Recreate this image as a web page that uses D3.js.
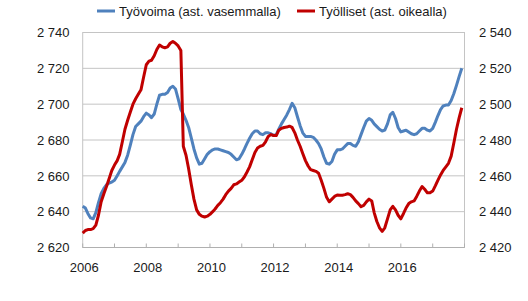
<!DOCTYPE html>
<html><head><meta charset="utf-8">
<script src="https://cdn.jsdelivr.net/npm/d3@7"></script>
<style>
html,body{margin:0;padding:0;background:#fff;}
svg{display:block;font-family:"Liberation Sans",Arial,sans-serif;}
</style></head>
<body><svg id="chart" width="528" height="301"></svg>
<script>
// Monthly series, January 2006 onward
const startYear = 2006;
const seriesNames = ["Työvoima (ast. vasemmalla)", "Työlliset (ast. oikealla)"];
// Työvoima (left axis, thousands)
const tyovoima = [
 2643,2642,2639,2636.5,2636,2639.5,2645,2650,2653,2655,2656,2656.5,
 2657.5,2660,2662.5,2665,2667.5,2671.5,2677,2683,2687.5,2689,2690.5,2693,
 2695,2694,2692.5,2694.5,2700,2705,2705.5,2705.5,2706.5,2709,2710,2708.5,
 2703,2697,2694.5,2691,2687,2681,2675,2670,2666.5,2667,2669.5,2672,
 2673.5,2674.5,2675,2675,2674.5,2674,2673.5,2673,2672,2670.5,2669,2669.5,
 2672,2675,2678,2681,2683.5,2685,2685,2683.5,2683,2684,2684,2683.5,
 2682.5,2683,2686,2689,2691.5,2694,2697,2700.5,2698,2693,2688,2684,
 2682,2682,2682,2681.5,2680,2678,2675,2670.5,2667,2666.5,2668,2672,
 2674.5,2674.5,2675,2676.5,2678,2678,2677,2676.5,2679,2683,2687,2690.5,
 2692,2691,2689,2687.5,2686,2685,2685.5,2689,2694,2695.5,2692,2687,
 2684.5,2685,2685.5,2684.5,2683.5,2683,2683.5,2685,2686.5,2686.5,2685.5,2685,
 2686.5,2690,2693.5,2697,2699,2699.5,2699.5,2702,2706,2710.5,2715.5,2720
];
// Työlliset (right axis, thousands)
const tyolliset = [
 2428,2429.5,2430,2430,2430.5,2432.5,2438,2445.5,2450,2454,2458.5,2463,
 2466,2468.5,2472,2479,2486,2491,2495.5,2500,2503,2505.5,2508,2515,
 2522,2524,2524.5,2527,2530.5,2533,2532,2531.5,2532,2534,2535,2534,
 2532.5,2530,2476.5,2471.5,2464,2455,2447,2441,2438.5,2437.5,2437,2437.5,
 2438.5,2440,2441.5,2443.5,2445,2447,2449.5,2451.5,2453,2455,2455.5,2456.5,
 2457.5,2459.5,2462,2465,2469,2473,2475.5,2476.5,2477,2479,2482,2483,
 2482.5,2482.5,2485.5,2486.5,2487,2487.2,2487.7,2487,2484,2480,2476.5,2472.5,
 2468.5,2465.5,2463.5,2463,2462.5,2461.5,2457.5,2453,2448,2445.5,2447,2448.5,
 2449.3,2449.2,2449.2,2449.5,2450,2449.5,2448,2446,2444.5,2442.8,2443.5,2445.5,
 2447,2446,2439.5,2434.5,2431,2429,2431,2436,2441,2443,2441,2438,
 2436,2439,2442,2444.5,2445.5,2446,2448.5,2451.5,2454,2452.5,2450.5,2450.5,
 2451.5,2454.5,2457.5,2460.5,2463,2465,2467,2471,2478.5,2486,2492.5,2498
];
const leftTicks = [2620,2640,2660,2680,2700,2720,2740];
const rightTicks = [2420,2440,2460,2480,2500,2520,2540];
const xLabelYears = [2006,2008,2010,2012,2014,2016];
const colors = ["#4f81bd","#c00000"];

const svg = d3.select("#chart");
const L = 82.7, R = 464.5, T = 32.5, B = 247.5;
const x = d3.scaleTime().domain([new Date(2006,0,1), new Date(2018,0,1)]).range([L,R]);
const yL = d3.scaleLinear().domain([2620,2740]).range([B,T]);
const yR = d3.scaleLinear().domain([2420,2540]).range([B,T]);
const fmt = d3.formatLocale({decimal:",",thousands:" ",grouping:[3],currency:["","€"]}).format(",d");
const dateOf = i => new Date(startYear, i, 1);

// gridlines
svg.append("g").selectAll("line").data(leftTicks.slice(1,-1)).join("line")
  .attr("x1",L).attr("x2",R).attr("y1",d=>yL(d)).attr("y2",d=>yL(d))
  .attr("stroke","#c4c4c4").attr("stroke-width",1);
// plot frame
svg.append("rect").attr("x",L).attr("y",T).attr("width",R-L).attr("height",B-T)
  .attr("fill","none").attr("stroke","#c4c4c4").attr("stroke-width",1);
// x ticks (inside), yearly
const yearTicks = d3.range(2006,2019).map(y=>new Date(y,0,1));
svg.append("g").selectAll("line").data(yearTicks).join("line")
  .attr("x1",d=>x(d)).attr("x2",d=>x(d)).attr("y1",B-4).attr("y2",B)
  .attr("stroke","#b0b0b0").attr("stroke-width",1);
svg.append("line").attr("x1",L).attr("x2",R).attr("y1",B).attr("y2",B)
  .attr("stroke","#b0b0b0").attr("stroke-width",1);

const txt = "#1a1a1a";
// left labels
svg.append("g").selectAll("text").data(leftTicks).join("text")
  .attr("x",69.5).attr("y",d=>yL(d)).attr("dy","0.36em").attr("text-anchor","end")
  .attr("font-size",13).attr("fill",txt).text(d=>fmt(d));
// right labels
svg.append("g").selectAll("text").data(rightTicks).join("text")
  .attr("x",479).attr("y",d=>yR(d)).attr("dy","0.36em").attr("text-anchor","start")
  .attr("font-size",13).attr("fill",txt).text(d=>fmt(d));
// x labels
svg.append("g").selectAll("text").data(xLabelYears).join("text")
  .attr("x",d=>x(new Date(d,0,1))+1.5).attr("y",272).attr("text-anchor","middle")
  .attr("font-size",13).attr("fill",txt).text(d=>d);

// lines
const lineL = d3.line().x((d,i)=>x(dateOf(i))).y(d=>yL(d));
const lineR = d3.line().x((d,i)=>x(dateOf(i))).y(d=>yR(d));
svg.append("path").datum(tyovoima).attr("d",lineL).attr("fill","none")
  .attr("stroke",colors[0]).attr("stroke-width",3).attr("stroke-linejoin","round");
svg.append("path").datum(tyolliset).attr("d",lineR).attr("fill","none")
  .attr("stroke",colors[1]).attr("stroke-width",3).attr("stroke-linejoin","round");

// legend
const legX = [97, 297];
const lg = svg.append("g").selectAll("g").data(seriesNames).join("g")
  .attr("transform",(d,i)=>`translate(${legX[i]},11)`);
lg.append("line").attr("x1",0).attr("x2",18).attr("y1",0).attr("y2",0)
  .attr("stroke",(d,i)=>colors[i]).attr("stroke-width",3);
lg.append("text").attr("x",22).attr("y",0).attr("dy","0.36em")
  .attr("font-size",13).attr("fill",txt).text(d=>d);
</script></body></html>
